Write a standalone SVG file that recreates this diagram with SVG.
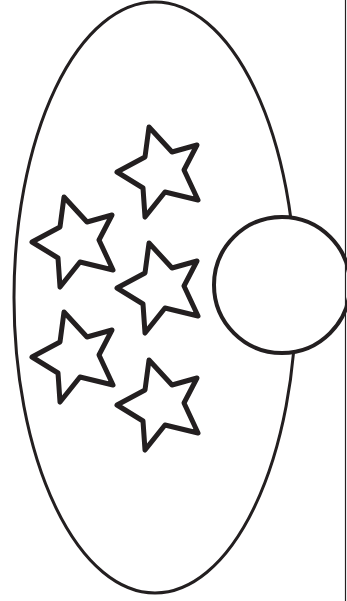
<svg xmlns="http://www.w3.org/2000/svg" width="347" height="601" viewBox="0 0 347 601">
<style>
.outline{fill:#fff;stroke:#231f20;}
.star{fill:#fff;stroke:#231f20;stroke-width:5;stroke-linejoin:round}
</style>
<defs>
<polygon id="star" points="149,127 172,152 197,145 184,170 198,200 165,192 145,217 143,188 117,172 145,157"/>
</defs>
<rect width="347" height="601" fill="#fff"/>
<g id="egg"><ellipse class="outline" cx="155" cy="297.5" rx="141" ry="295.5" stroke-width="3"/></g>
<g id="star1"><use href="#star" class="star"/></g>
<g id="star2"><use href="#star" class="star" transform="translate(-85,70)"/></g>
<g id="star3"><use href="#star" class="star" transform="translate(0,116)"/></g>
<g id="star4"><use href="#star" class="star" transform="translate(-85,185)"/></g>
<g id="star5"><use href="#star" class="star" transform="translate(0,233)"/></g>
<g id="circle"><circle class="outline" cx="282" cy="285" r="68" stroke-width="4"/></g>
<g id="edge"><line x1="345.5" y1="0" x2="345.5" y2="601" stroke="#231f20" stroke-width="1.2"/></g>
</svg>
